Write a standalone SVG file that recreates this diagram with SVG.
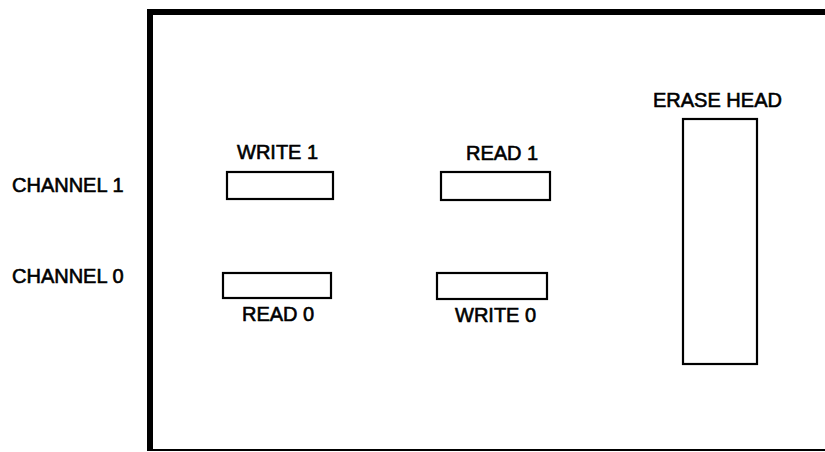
<svg xmlns="http://www.w3.org/2000/svg" width="825" height="452" viewBox="0 0 825 452">
<style>
.t{font-family:"Liberation Sans",Arial,sans-serif;font-size:20px;fill:#000;stroke:#000;stroke-width:0.6}
.h{fill:#fff;stroke:#000;stroke-width:2.2}
.f{stroke:#000;fill:none}
</style>
<rect width="825" height="452" fill="#fff"/>
<g id="frame">
<line class="f" x1="150" y1="12" x2="825" y2="12" stroke-width="6"/>
<line class="f" x1="150" y1="9" x2="150" y2="451" stroke-width="6"/>
<line class="f" x1="150" y1="450" x2="825" y2="450" stroke-width="2"/>
</g>
<g id="channel1"><text class="t" x="12" y="192">CHANNEL 1</text></g>
<g id="channel0"><text class="t" x="12" y="283">CHANNEL 0</text></g>
<g id="write1">
<text class="t" x="237" y="159">WRITE 1</text>
<rect class="h" x="227" y="172" width="106" height="27"/>
</g>
<g id="read1">
<text class="t" x="466" y="160">READ 1</text>
<rect class="h" x="441" y="172" width="109" height="28"/>
</g>
<g id="read0">
<rect class="h" x="223" y="273" width="108" height="25"/>
<text class="t" x="242" y="321">READ 0</text>
</g>
<g id="write0">
<rect class="h" x="437" y="273" width="110" height="26"/>
<text class="t" x="455" y="322">WRITE 0</text>
</g>
<g id="erase">
<text class="t" x="653" y="107">ERASE HEAD</text>
<rect class="h" x="683" y="119" width="74" height="245"/>
</g>
<g id="connectors"></g>
</svg>
